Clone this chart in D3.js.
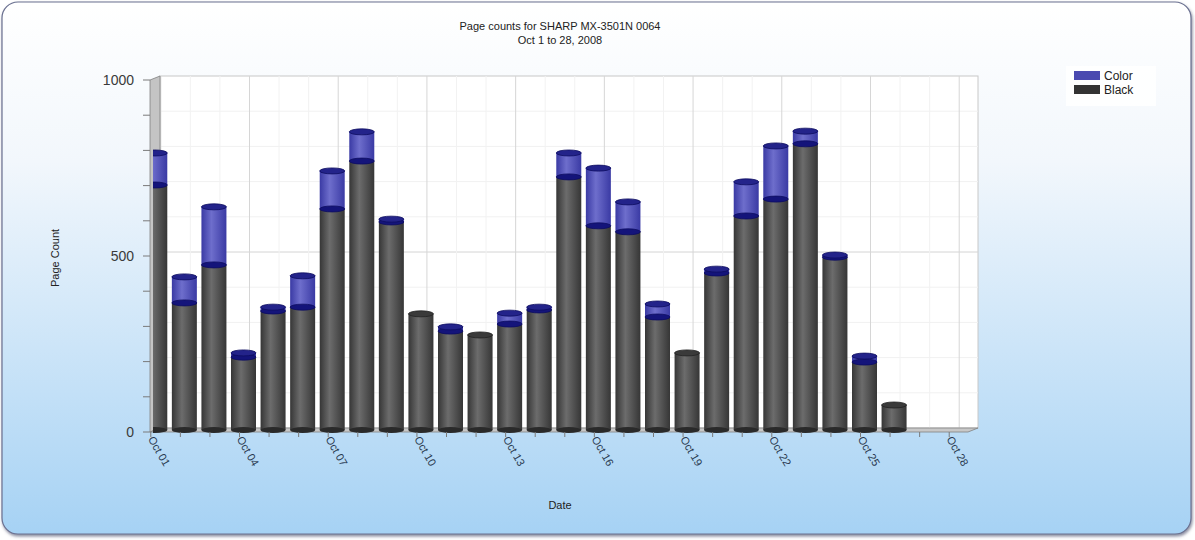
<!DOCTYPE html>
<html>
<head>
<meta charset="utf-8">
<script src="https://cdn.jsdelivr.net/npm/d3@7"></script>
<style>
  body { margin: 0; background: #fff; }
  svg { display: block; font-family: "Liberation Sans", Arial, sans-serif; }
</style>
</head>
<body>
<div id="chart"></div>
<script>
// daily page counts, Oct 1..28 2008
const days = d3.range(1, 29).map(d => `Oct ${String(d).padStart(2, '0')}`);
const blackPages = [696, 361, 469, 207, 338, 349, 628, 764, 591, 330, 281, 270, 301, 341,
  719, 580, 563, 321, 219, 446, 608, 656, 813, 491, 193, 71, 0, 0];
const colorPages = [91, 74, 165, 12, 11, 89, 108, 83, 8, 0, 12, 0, 31, 8,
  68, 164, 85, 37, 0, 11, 97, 151, 36, 6, 17, 0, 0, 0];
const yTicks = [0, 500, 1000];
const seriesNames = ['Color', 'Black'];

const width = 1195;
const height = 540;
const depth = [10, -4]; // 3d offset of the back wall

const svg = d3.select('#chart').append('svg')
  .attr('width', width)
  .attr('height', height);

const defs = svg.append('defs');

const bg = defs.append('linearGradient').attr('id', 'bg')
  .attr('x1', 0).attr('y1', 0).attr('x2', 0).attr('y2', 1);
bg.append('stop').attr('offset', '0%').attr('stop-color', '#ffffff');
bg.append('stop').attr('offset', '30%').attr('stop-color', '#f2f7fc');
bg.append('stop').attr('offset', '100%').attr('stop-color', '#a6d2f4');

const barGrad = (id, edge, mid) => {
  const g = defs.append('linearGradient').attr('id', id)
    .attr('x1', 0).attr('y1', 0).attr('x2', 1).attr('y2', 0);
  g.append('stop').attr('offset', '0%').attr('stop-color', edge);
  g.append('stop').attr('offset', '40%').attr('stop-color', mid);
  g.append('stop').attr('offset', '100%').attr('stop-color', edge);
};
barGrad('gBlack', '#363636', '#6c6c6c');
barGrad('gColor', '#3a3aa4', '#6e6ecc');

defs.append('clipPath').attr('id', 'plotClip')
  .append('rect').attr('x', 153).attr('y', 0).attr('width', 830).attr('height', 440);

const shadow = defs.append('filter').attr('id', 'shadow')
  .attr('x', '-2%').attr('y', '-2%').attr('width', '104%').attr('height', '106%');
shadow.append('feDropShadow').attr('dx', 1).attr('dy', 2).attr('stdDeviation', 1.5)
  .attr('flood-color', '#3a4060').attr('flood-opacity', 0.6);

// panel
svg.append('rect')
  .attr('x', 2).attr('y', 2)
  .attr('width', width - 6).attr('height', height - 8)
  .attr('rx', 16)
  .attr('fill', 'url(#bg)')
  .attr('stroke', '#6a7090')
  .attr('stroke-width', 1.2)
  .attr('filter', 'url(#shadow)');

const x = d3.scaleBand().domain(days).range([140, 968]);
const y = d3.scaleLinear().domain([0, 1000]).range([432, 80]);
const cx = d => x(d) + x.bandwidth() / 2;

const left = 150;
const right = 968;
const [dx, dy] = depth;

// back wall
svg.append('rect')
  .attr('x', left + dx).attr('y', y(1000) + dy)
  .attr('width', right - left).attr('height', y(0) - y(1000))
  .attr('fill', '#ffffff')
  .attr('stroke', '#c8c8c8');

const grid = svg.append('g');
grid.selectAll('.hminor')
  .data(d3.range(100, 1000, 100))
  .join('line')
  .attr('x1', left + dx).attr('x2', right + dx)
  .attr('y1', d => y(d) + dy).attr('y2', d => y(d) + dy)
  .attr('stroke', d => (d === 500 ? '#d4d4d4' : '#f1f1f1'));
grid.selectAll('.vgrid')
  .data(days)
  .join('line')
  .attr('x1', d => cx(d) + 6).attr('x2', d => cx(d) + 6)
  .attr('y1', y(1000) + dy).attr('y2', y(0) + dy)
  .attr('stroke', (d, i) => (i % 3 === 0 ? '#d6d6d6' : '#f2f2f2'));

// left wall
svg.append('path')
  .attr('d', `M${left},${y(0)} L${left},${y(1000)} L${left + dx},${y(1000) + dy} L${left + dx},${y(0) + dy} Z`)
  .attr('fill', '#c4c4c4')
  .attr('stroke', '#808080')
  .attr('stroke-width', 0.8);

// floor
svg.append('path')
  .attr('d', `M${left},${y(0)} L${right},${y(0)} L${right + dx},${y(0) + dy} L${left + dx},${y(0) + dy} Z`)
  .attr('fill', '#c8c8c8')
  .attr('stroke', '#808080')
  .attr('stroke-width', 0.8);

// bars as cylinders
const bw = 25;
const ry = 3;
const base = v => y(v) - 2;
const bars = svg.append('g').attr('clip-path', 'url(#plotClip)')
  .selectAll('g')
  .data(days.map((d, i) => ({ day: d, black: blackPages[i], color: colorPages[i] })))
  .join('g')
  .filter(d => d.black + d.color > 0);

bars.append('rect')
  .attr('x', d => cx(d.day) - bw / 2)
  .attr('y', d => base(d.black))
  .attr('width', bw)
  .attr('height', d => base(0) - base(d.black))
  .attr('fill', 'url(#gBlack)');
bars.append('ellipse')
  .attr('cx', d => cx(d.day)).attr('cy', base(0))
  .attr('rx', bw / 2).attr('ry', ry)
  .attr('fill', '#2a2a2a');

bars.filter(d => d.color > 0).append('rect')
  .attr('x', d => cx(d.day) - bw / 2)
  .attr('y', d => base(d.black + d.color))
  .attr('width', bw)
  .attr('height', d => base(d.black) - base(d.black + d.color))
  .attr('fill', 'url(#gColor)');

bars.append('ellipse')
  .attr('cx', d => cx(d.day)).attr('cy', d => base(d.black))
  .attr('rx', bw / 2).attr('ry', ry)
  .attr('fill', d => (d.color > 0 ? '#14147a' : '#3a3a3a'))
  .attr('stroke', d => (d.color > 0 ? '#0c0c60' : '#222'))
  .attr('stroke-width', 0.8);

bars.filter(d => d.color > 0).append('ellipse')
  .attr('cx', d => cx(d.day)).attr('cy', d => base(d.black + d.color))
  .attr('rx', bw / 2).attr('ry', ry)
  .attr('fill', '#23238a')
  .attr('stroke', '#0c0c60')
  .attr('stroke-width', 0.8);

// y axis ticks
const axisColor = '#7a7a7a';
svg.append('g').selectAll('line')
  .data(d3.range(0, 1001, 100))
  .join('line')
  .attr('x1', left - 7).attr('x2', left)
  .attr('y1', d => y(d)).attr('y2', d => y(d))
  .attr('stroke', axisColor);
svg.append('g').selectAll('text')
  .data(yTicks)
  .join('text')
  .attr('x', left - 16).attr('y', d => y(d) + 5)
  .attr('text-anchor', 'end')
  .attr('font-size', 14)
  .attr('fill', '#3a3a3a')
  .text(d => d);

// x axis ticks and labels
svg.append('g').selectAll('line')
  .data(days)
  .join('line')
  .attr('x1', d => cx(d) - 4).attr('x2', d => cx(d) - 4)
  .attr('y1', y(0)).attr('y2', y(0) + 5)
  .attr('stroke', axisColor);
svg.append('g').selectAll('text')
  .data(days.filter((d, i) => i % 3 === 0))
  .join('text')
  .attr('transform', d => `translate(${cx(d) - 7},${y(0) + 7}) rotate(60)`)
  .attr('font-size', 11)
  .attr('fill', '#2a3a50')
  .text(d => d);

// titles
svg.append('text')
  .attr('x', 560).attr('y', 30)
  .attr('text-anchor', 'middle')
  .attr('font-size', 11)
  .attr('fill', '#222')
  .text('Page counts for SHARP MX-3501N 0064');
svg.append('text')
  .attr('x', 560).attr('y', 44)
  .attr('text-anchor', 'middle')
  .attr('font-size', 11)
  .attr('fill', '#222')
  .text('Oct 1 to 28, 2008');
svg.append('text')
  .attr('transform', 'translate(59,258) rotate(-90)')
  .attr('text-anchor', 'middle')
  .attr('font-size', 11)
  .attr('fill', '#222')
  .text('Page Count');
svg.append('text')
  .attr('x', 560).attr('y', 509)
  .attr('text-anchor', 'middle')
  .attr('font-size', 11)
  .attr('fill', '#222')
  .text('Date');

// legend
const legend = svg.append('g').attr('transform', 'translate(1066,66)');
legend.append('rect')
  .attr('width', 90).attr('height', 40)
  .attr('fill', '#ffffff').attr('opacity', 0.85);
const legendColors = ['#4a4ab0', '#333333'];
seriesNames.forEach((name, i) => {
  legend.append('rect')
    .attr('x', 8).attr('y', 5 + i * 14)
    .attr('width', 26).attr('height', 9)
    .attr('fill', legendColors[i]);
  legend.append('text')
    .attr('x', 38).attr('y', 14 + i * 14)
    .attr('font-size', 12)
    .attr('fill', '#222')
    .text(name);
});
</script>
</body>
</html>
